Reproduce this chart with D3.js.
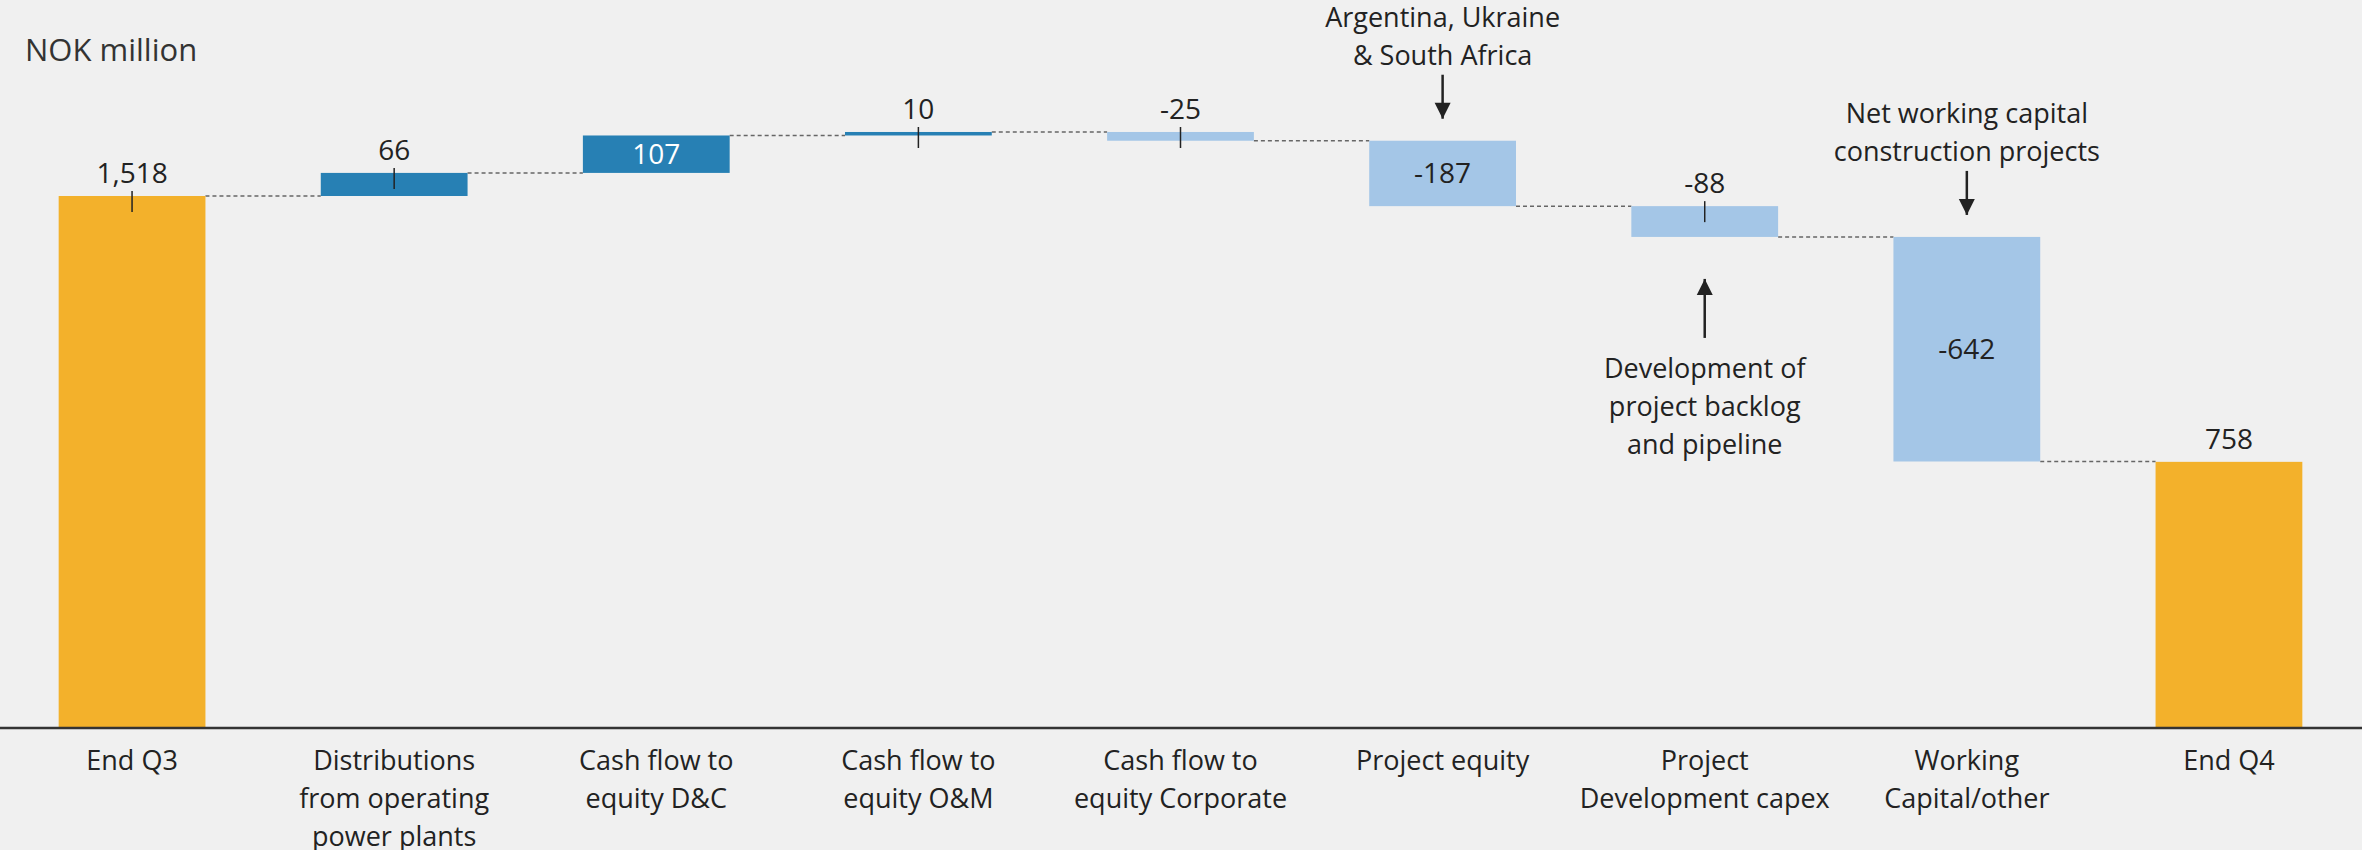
<!DOCTYPE html>
<html>
<head>
<meta charset="utf-8">
<script src="https://cdn.jsdelivr.net/npm/d3@7"></script>
<style>
  html, body { margin: 0; padding: 0; background: #f0f0f0; }
  svg text { font-family: "Open Sans", "Noto Sans", sans-serif; fill: #222; }
</style>
</head>
<body>
<div id="chart"></div>
<script>
// data (NOK million)
var categories = [
    ["End Q3"],
    ["Distributions", "from operating", "power plants"],
    ["Cash flow to", "equity D&C"],
    ["Cash flow to", "equity O&M"],
    ["Cash flow to", "equity Corporate"],
    ["Project equity"],
    ["Project", "Development capex"],
    ["Working", "Capital/other"],
    ["End Q4"]
];
var values = [1518, 66, 107, 10, -25, -187, -88, -642, 758];
var isTotal = [true, false, false, false, false, false, false, false, true];
var valueLabels = ["1,518", "66", "107", "10", "-25", "-187", "-88", "-642", "758"];

var annotations = [
    {index: 5, lines: ["Argentina, Ukraine", "& South Africa"], side: "above"},
    {index: 7, lines: ["Net working capital", "construction projects"], side: "above"},
    {index: 6, lines: ["Development of", "project backlog", "and pipeline"], side: "below"}
];

var unitLabel = "NOK million";

var width = 2362, height = 850;
var colTotal = "#f3b12b", colUp = "#2780b4", colDown = "#a4c6e7";

var svg = d3.select("#chart").append("svg")
    .attr("width", width)
    .attr("height", height);

svg.append("rect").attr("width", width).attr("height", height).attr("fill", "#f0f0f0");

var x = d3.scaleBand()
    .domain(d3.range(values.length))
    .range([1, 2360])
    .paddingInner(0.44)
    .paddingOuter(0.22);

var y = d3.scaleLinear()
    .domain([0, 2078.3])
    .range([727, 0]);

// waterfall start / end levels
var running = 0;
var bars = values.map(function(v, i) {
    var start, end;
    if (isTotal[i]) { start = 0; end = v; running = v; }
    else { start = running; end = running + v; running = end; }
    return {i: i, v: v, start: start, end: end, total: isTotal[i]};
});

// dashed connectors
svg.append("g").selectAll("line")
    .data(bars.slice(0, -1))
    .enter().append("line")
    .attr("x1", function(d) { return x(d.i) + x.bandwidth(); })
    .attr("x2", function(d) { return x(d.i + 1); })
    .attr("y1", function(d) { return y(d.end); })
    .attr("y2", function(d) { return y(d.end); })
    .attr("stroke", "#666")
    .attr("stroke-width", 1.5)
    .attr("stroke-dasharray", "4,3");

// bars
svg.append("g").selectAll("rect")
    .data(bars)
    .enter().append("rect")
    .attr("x", function(d) { return x(d.i); })
    .attr("width", x.bandwidth())
    .attr("y", function(d) { return y(Math.max(d.start, d.end)); })
    .attr("height", function(d) { return Math.abs(y(d.start) - y(d.end)); })
    .attr("fill", function(d) { return d.total ? colTotal : (d.v >= 0 ? colUp : colDown); });

// value labels
function inside(d) { return !d.total && Math.abs(d.v) >= 100; }

var labels = svg.append("g");
bars.forEach(function(d) {
    var cx = x(d.i) + x.bandwidth() / 2;
    var top = y(Math.max(d.start, d.end));
    if (inside(d)) {
        labels.append("text")
            .attr("x", cx)
            .attr("y", (y(d.start) + y(d.end)) / 2 + 10)
            .attr("text-anchor", "middle")
            .style("font-size", "28px")
            .style("fill", d.v >= 0 ? "#fff" : "#222")
            .text(valueLabels[d.i]);
    } else {
        labels.append("text")
            .attr("x", cx)
            .attr("y", top - 13)
            .attr("text-anchor", "middle")
            .style("font-size", "28px")
            .text(valueLabels[d.i]);
        if (d.i < bars.length - 1) {
            labels.append("line")
                .attr("x1", cx).attr("x2", cx)
                .attr("y1", top - 5).attr("y2", top + 16)
                .attr("stroke", "#222")
                .attr("stroke-width", 1.5);
        }
    }
});

// baseline
svg.append("line")
    .attr("x1", 0).attr("x2", width)
    .attr("y1", y(0) + 1).attr("y2", y(0) + 1)
    .attr("stroke", "#333")
    .attr("stroke-width", 2.5);

// category labels
var cat = svg.append("g").selectAll("text")
    .data(categories)
    .enter().append("text")
    .attr("text-anchor", "middle")
    .attr("transform", function(d, i) { return "translate(" + (x(i) + x.bandwidth() / 2) + ",770)"; })
    .style("font-size", "27px");

cat.selectAll("tspan")
    .data(function(d) { return d; })
    .enter().append("tspan")
    .attr("x", 0)
    .attr("y", function(d, j) { return j * 38; })
    .text(function(d) { return d; });

// unit label
svg.append("text")
    .attr("x", 25)
    .attr("y", 61)
    .style("font-size", "31px")
    .style("fill", "#333")
    .text(unitLabel);

// annotations with arrows
svg.append("defs").append("marker")
    .attr("id", "arrow")
    .attr("viewBox", "0 0 10 10")
    .attr("refX", 10).attr("refY", 5)
    .attr("markerWidth", 8).attr("markerHeight", 8)
    .attr("markerUnits", "userSpaceOnUse")
    .attr("orient", "auto")
    .append("path")
    .attr("d", "M0,0 L10,5 L0,10 Z")
    .attr("fill", "#222");

var ann = svg.append("g");
annotations.forEach(function(a) {
    var b = bars[a.index];
    var cx = x(a.index) + x.bandwidth() / 2;
    var top = y(Math.max(b.start, b.end));
    var bottom = y(Math.min(b.start, b.end));
    var tip, tail, firstBaseline;
    if (a.side === "above") {
        tip = top - 22;
        tail = tip - 44;
        firstBaseline = tail - 10 - (a.lines.length - 1) * 38;
    } else {
        tip = bottom + 42;
        tail = tip + 59;
        firstBaseline = tail + 40;
    }
    ann.append("line")
        .attr("x1", cx).attr("x2", cx)
        .attr("y1", tail).attr("y2", tip)
        .attr("stroke", "#222")
        .attr("stroke-width", 2.5);
    ann.append("path")
        .attr("d", a.side === "above"
            ? "M" + (cx - 8) + "," + (tip - 16) + "L" + (cx + 8) + "," + (tip - 16) + "L" + cx + "," + tip + "Z"
            : "M" + (cx - 8) + "," + (tip + 16) + "L" + (cx + 8) + "," + (tip + 16) + "L" + cx + "," + tip + "Z")
        .attr("fill", "#222");
    var t = ann.append("text")
        .attr("text-anchor", "middle")
        .style("font-size", "27px");
    a.lines.forEach(function(line, j) {
        t.append("tspan")
            .attr("x", cx)
            .attr("y", firstBaseline + j * 38)
            .text(line);
    });
});
</script>
</body>
</html>
